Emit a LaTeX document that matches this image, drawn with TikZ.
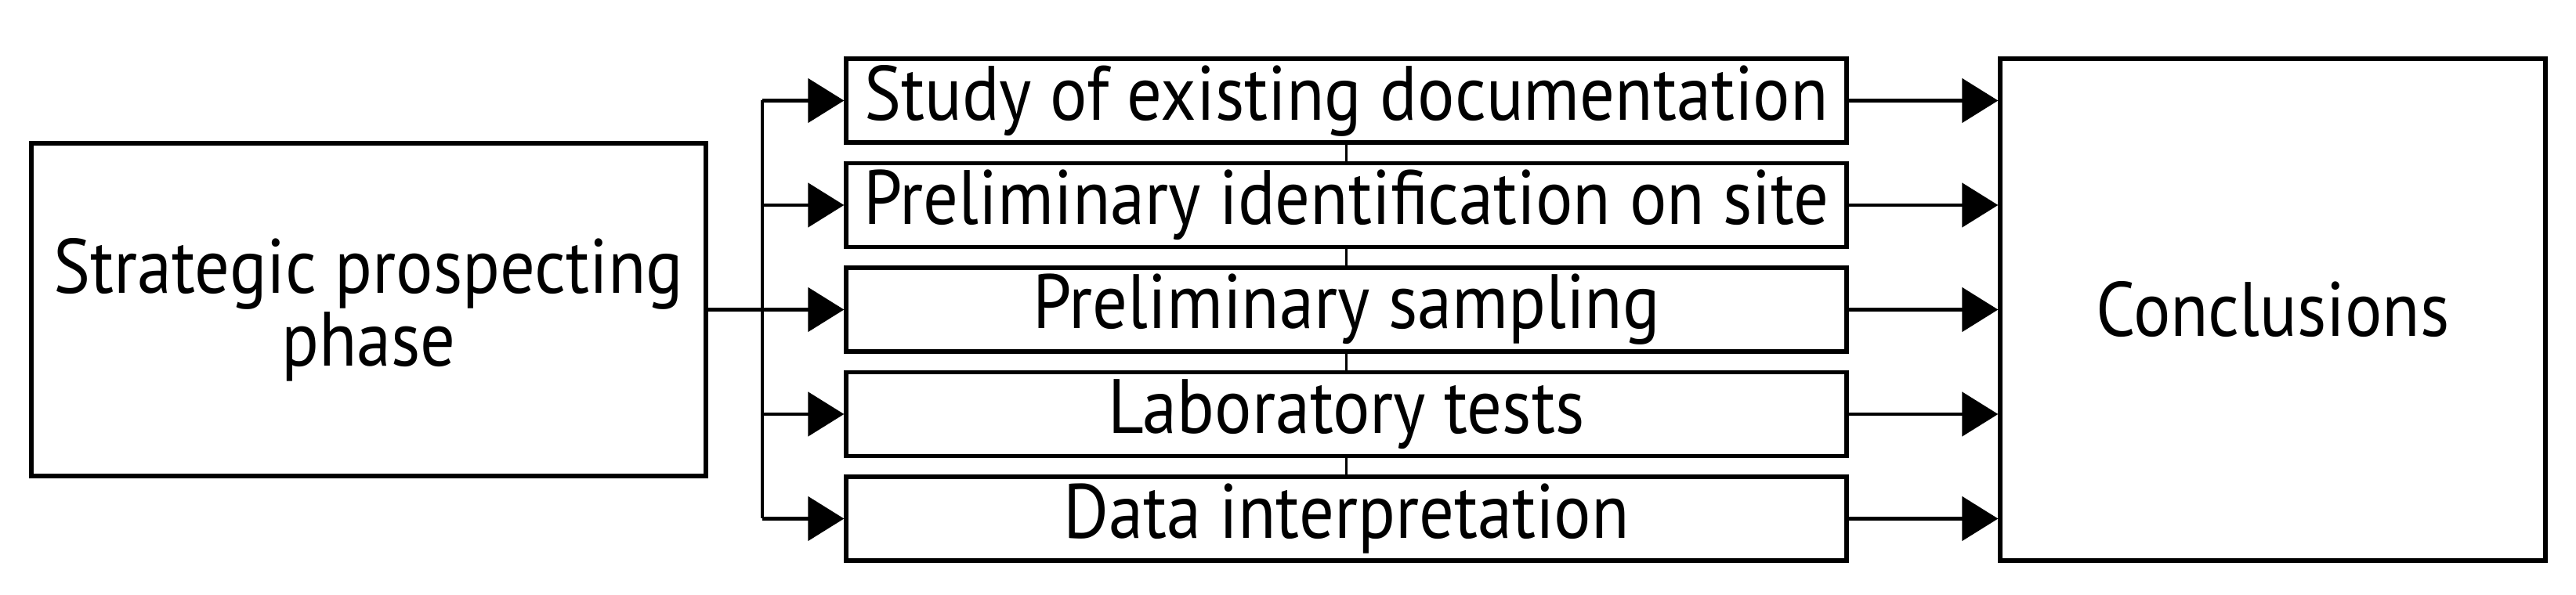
\documentclass[tikz,border=0pt]{standalone}
\usepackage{fontspec}
\setmainfont{PT Sans}[FakeStretch=0.9]
\usepackage{tikz}
\usetikzlibrary{arrows.meta}
\def\boxfont{\fontsize{28}{24.7}\selectfont}

\begin{document}
\begin{tikzpicture}[
	box/.style={draw,line width=1.5pt,fill=white,inner sep=0pt,align=center,font=\boxfont},
	stepbox/.style={box,minimum width=12.77cm,minimum height=1.07cm},
	link/.style={line width=1.4pt,-{Triangle[length=0.46cm,width=0.56cm]}}]
					\useasboundingbox (0,0) rectangle (32.88,7.6);
					\node[box,minimum width=8.61cm,minimum height=4.25cm] (phase) at (4.705,3.645) {Strategic prospecting\\phase};
					\node[stepbox] (b1) at (17.185,6.315) {Study of existing documentation};
					\node[stepbox] (b2) at (17.185,4.98) {Preliminary identification on site};
					\node[stepbox] (b3) at (17.185,3.645) {Preliminary sampling};
					\node[stepbox] (b4) at (17.185,2.31) {Laboratory tests};
					\node[stepbox] (b5) at (17.185,0.975) {Data interpretation};
					\node[box,minimum width=6.96cm,minimum height=6.41cm] (concl) at (29.01,3.645) {Conclusions};
					\coordinate (bus) at (9.73,3.645);
					\draw[line width=1.4pt] (phase.east) -- (bus);
					\draw[line width=1.4pt] (bus |- b1.west) -- (bus |- b5.west);
					\foreach \i/\j in {1/2,2/3,3/4,4/5}
						\draw[line width=0.7pt] (b\i.south) -- (b\j.north);
					\foreach \i in {1,...,5}{
						\draw[link] (bus |- b\i.west) -- (b\i.west);
						\draw[link] (b\i.east) -- (b\i.east -| concl.west);
					}
				\end{tikzpicture}
\end{document}
